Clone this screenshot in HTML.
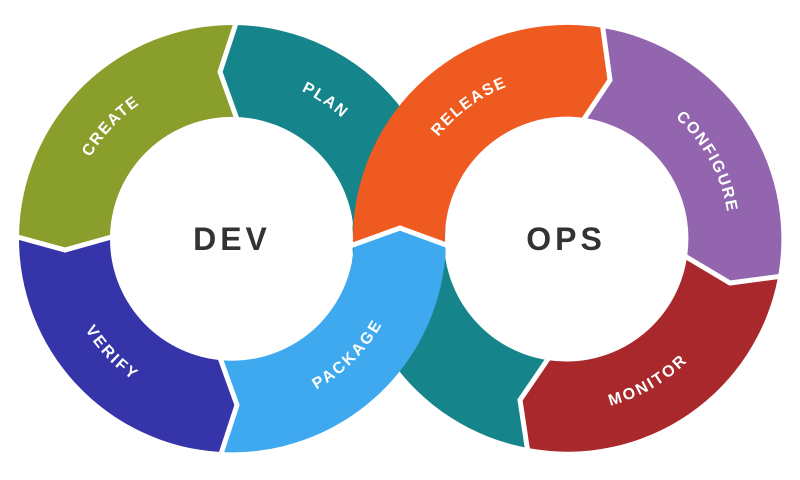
<!DOCTYPE html>
<html><head><meta charset="utf-8"><style>
html,body{margin:0;padding:0;background:#fff;width:800px;height:480px;overflow:hidden}
svg{display:block}
.l{font-family:"Liberation Sans",sans-serif;font-weight:bold;font-size:16px;fill:#fff;letter-spacing:2px}
.c{font-family:"Liberation Sans",sans-serif;font-weight:bold;font-size:32px;fill:#333;letter-spacing:4px}
</style></head><body>
<svg width="800" height="480" viewBox="0 0 800 480" xmlns="http://www.w3.org/2000/svg">
<defs>
<path id="pCreate" d="M71.3,288.1 A168 168 0 0 1 269.8,75.3"/>
<path id="pPlan" d="M158.4,88 A168 168 0 0 1 399.6,250.7"/>
<path id="pVerify" d="M70.9,191.3 A168 168 0 0 0 271.2,402.4"/>
<path id="pPackage" d="M188.5,401.3 A168 168 0 0 0 394.3,195.5"/>
<path id="pRelease" d="M398.9,256.6 A168 168 0 0 1 634.3,85.5"/>
<path id="pConfigure" d="M570.4,71 A168 168 0 0 1 709.2,326.8"/>
<path id="pMonitor" d="M482,384.5 A168 168 0 0 0 734,239"/>
</defs>
<path fill="#16858b" d="M528,448 A214 214 0 0 1 355.3,201.8 L445.9,217.8 A122 122 0 0 0 547,360 L520,400 Z"/>
<path fill="#16858b" d="M442.7,276.2 A214 214 0 0 0 236,25 L220,72 L237,117 A122 122 0 0 1 352.1,260.2 Z"/>
<path fill="#8a9e2b" d="M236,25 A214 214 0 0 0 19,236 L65,250 L110,236 A122 122 0 0 1 237,117 L220,72 Z"/>
<path fill="#3535a9" d="M19,236 A214 214 0 0 0 220,452 L237,405 L219,360 A122 122 0 0 1 110,236 L65,250 Z"/>
<path fill="#3fa9f0" d="M220,452 A214 214 0 0 0 446,245 L400,228 L354,245 A122 122 0 0 1 219,360 L237,405 Z"/>
<path fill="#ef5a20" d="M353,245 A214 214 0 0 1 603,28 L610,80 L585,118 A122 122 0 0 0 445,245 L400,228 Z"/>
<path fill="#9265ae" d="M603,28 A214 214 0 0 1 778,277 L730,283 L687,257 A122 122 0 0 0 585,118 L610,80 Z"/>
<path fill="#a9282b" d="M778,277 A214 214 0 0 1 528,448 L520,400 L547,360 A122 122 0 0 0 687,257 L730,283 Z"/>
<circle cx="232" cy="239" r="121" fill="#fff"/>
<circle cx="566" cy="239" r="121" fill="#fff"/>
<g fill="none" stroke="#fff" stroke-width="5" stroke-linejoin="miter">
<polyline points="237,20 220,72 238,122"/>
<polyline points="14,236 65,250 115,236"/>
<polyline points="220,457 237,405 219,355"/>
<polyline points="350,246 400,228 449,246"/>
<polyline points="602,22 610,80 582,122"/>
<polyline points="683,255 730,283 783,276"/>
<polyline points="528,453 520,400 550,356"/>
</g>
<text class="l"><textPath href="#pCreate" startOffset="50%" text-anchor="middle" dominant-baseline="central">CREATE</textPath></text>
<text class="l"><textPath href="#pPlan" startOffset="50%" text-anchor="middle" dominant-baseline="central">PLAN</textPath></text>
<text class="l"><textPath href="#pVerify" startOffset="50%" text-anchor="middle" dominant-baseline="central">VERIFY</textPath></text>
<text class="l"><textPath href="#pPackage" startOffset="50%" text-anchor="middle" dominant-baseline="central">PACKAGE</textPath></text>
<text class="l"><textPath href="#pRelease" startOffset="50%" text-anchor="middle" dominant-baseline="central">RELEASE</textPath></text>
<text class="l"><textPath href="#pConfigure" startOffset="50%" text-anchor="middle" dominant-baseline="central">CONFIGURE</textPath></text>
<text class="l"><textPath href="#pMonitor" startOffset="50%" text-anchor="middle" dominant-baseline="central">MONITOR</textPath></text>
<text class="c" x="232" y="250" text-anchor="middle">DEV</text>
<text class="c" x="566" y="250" text-anchor="middle">OPS</text>
</svg>
</body></html>
